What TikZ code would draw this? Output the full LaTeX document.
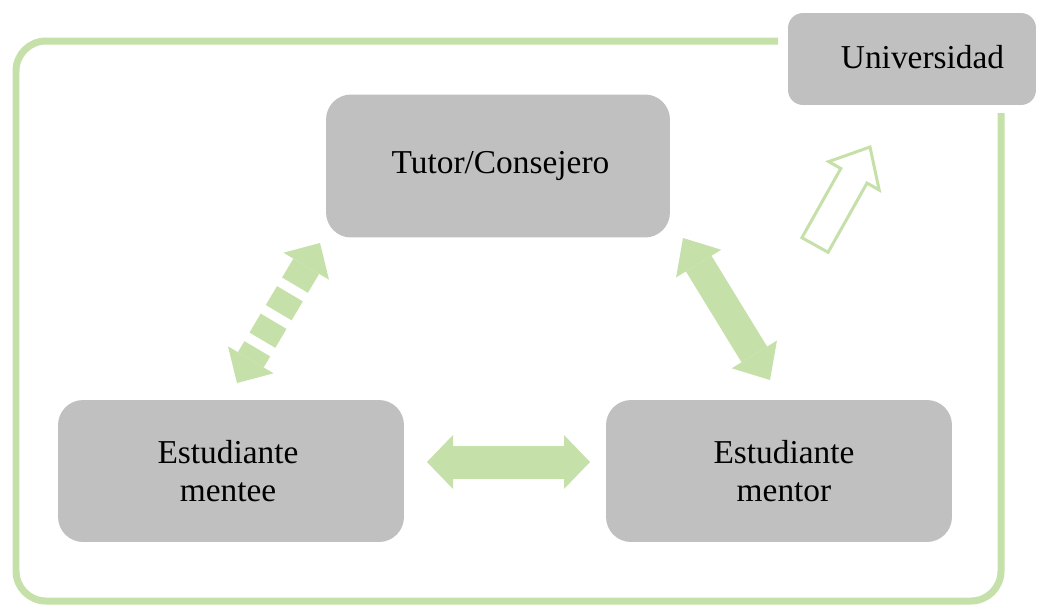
\documentclass[tikz,border=0pt]{standalone}
\usepackage{fontspec}
\setmainfont{Liberation Serif}
\usetikzlibrary{arrows.meta}
\definecolor{leaf}{RGB}{197,224,168}
\definecolor{boxgray}{RGB}{192,192,192}
\tikzset{
  party/.style={fill=boxgray,rounded corners=0.5cm,align=center,inner sep=0pt,
    font=\fontsize{19}{21.6}\selectfont},
  link/.style={leaf,line width=#1},
}
\begin{document}
\begin{tikzpicture}[x=0.02cm,y=-0.02cm]
\useasboundingbox (0,0) rectangle (1048,606);
% outer frame
\draw[leaf,line width=0.14cm,rounded corners=0.6cm] (778,41) -- (16,41) -- (16,601) -- (1001,601) -- (1001,113);
% boxes
\node[party,minimum width=4.96cm,minimum height=1.84cm,rounded corners=0.3cm] (uni) at (912,59) {\hspace{0.42cm}\raisebox{0.08cm}{Universidad}};
\node[party,minimum width=6.88cm,minimum height=2.86cm] (tutor) at (498,166) {\hspace{0.1cm}\raisebox{0.12cm}{Tutor/Consejero}};
\node[party,minimum width=6.92cm,minimum height=2.84cm] (mentee) at (231,471) {\raisebox{0.1cm}{\parbox{5cm}{\centering Estudiante\\mentee}}\hspace{0.12cm}};
\node[party,minimum width=6.92cm,minimum height=2.84cm] (mentor) at (779,471) {\hspace{0.2cm}Estudiante\\\hspace{0.2cm}mentor};
% arrow ends
\coordinate (mentee-r) at (427,462);
\coordinate (mentor-l) at (590,462);
\coordinate (tutor-br) at (683,238);
\coordinate (mentor-t) at (770,380);
\coordinate (tutor-bl) at (320,243);
\coordinate (mentee-t) at (237,383);
% double arrows
\draw[link=0.66cm,{Triangle[length=0.52cm,width=1.08cm,line width=0pt]}-{Triangle[length=0.52cm,width=1.08cm,line width=0pt]}] (mentee-r) -- (mentor-l);
\draw[link=0.6cm,{Triangle[length=0.6cm,width=1.06cm,line width=0pt]}-{Triangle[length=0.6cm,width=1.06cm,line width=0pt]}] (tutor-br) -- (mentor-t);
\draw[link=0.6cm,dash pattern=on 0.44cm off 0.2cm,{Triangle[length=0.54cm,width=1.06cm,line width=0pt]}-{Triangle[length=0.54cm,width=1.06cm,line width=0pt]}] (tutor-bl) -- (mentee-t);
% hollow arrow to university
\draw[leaf,line width=0.06cm,fill=white,line join=miter] (801.9,237.7) -- (840.8,168.5) -- (828.6,161.6) -- (870,147) -- (879.2,190) -- (867,183.1) -- (828.1,252.3) -- cycle;
\end{tikzpicture}
\end{document}
